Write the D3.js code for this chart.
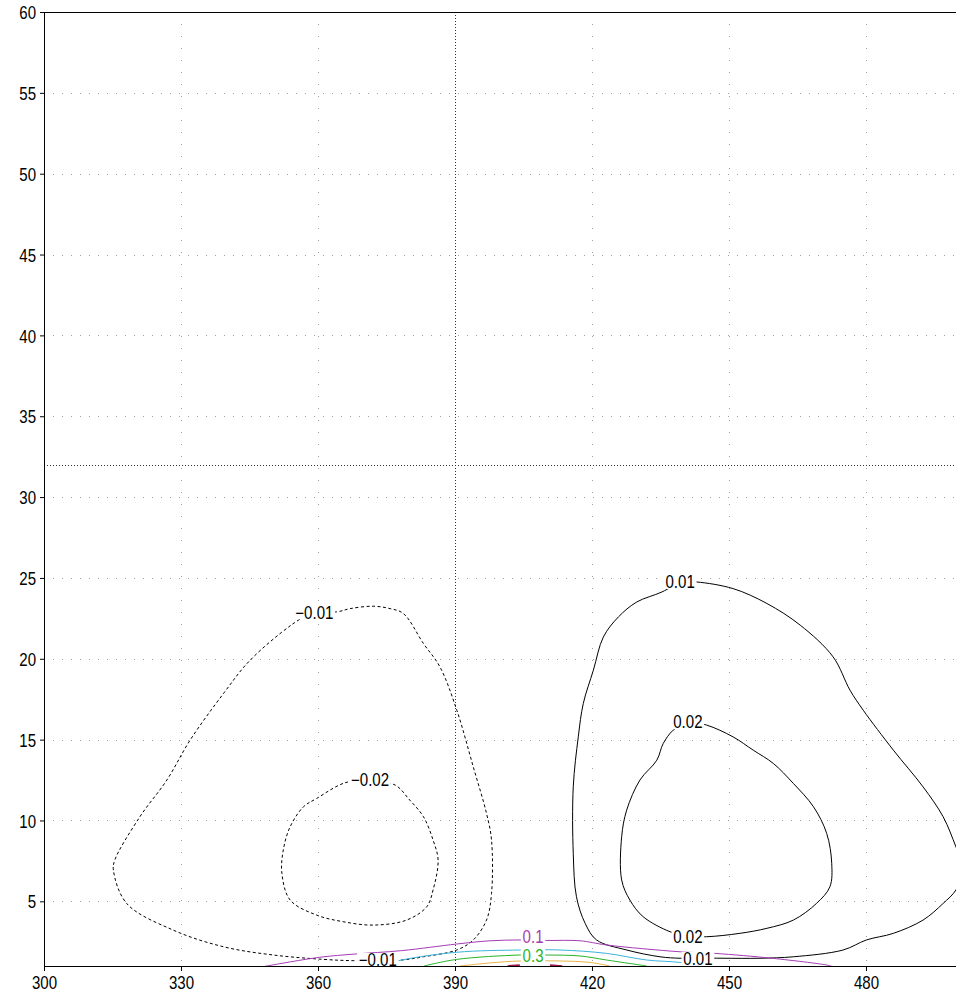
<!DOCTYPE html>
<html><head><meta charset="utf-8">
<script src="https://cdn.jsdelivr.net/npm/d3@7"></script>
<style>
body{margin:0;background:#fff}
svg{display:block}
text{font-family:"Liberation Sans",Arial,sans-serif;}
</style>
</head><body><svg id="c" width="956" height="993"></svg>
<script>
// ---- data ----
const xTicks = [300, 330, 360, 390, 420, 450, 480];
const yTicks = [5, 10, 15, 20, 25, 30, 35, 40, 45, 50, 55, 60];
const crossX = 390, crossY = 32;

// contour -0.01 (outer dashed)
const cNeg001 = [[359.1,22.95],[354.2,22.1],[345.1,19.9],[339.3,17.85],[332.0,14.97],[326.9,12.5],[321.0,10.23],[315.5,7.55],[315.2,6.93],[318.1,4.87],[328.3,3.22],[339.3,2.19],[350.2,1.68],[361.2,1.41],[367.7,1.33],[373.1,1.35],[378.3,1.37],[383.1,1.57],[390.4,1.99],[394.0,2.61],[396.9,3.84],[398.0,5.49],[398.0,8.79],[396.9,10.44],[394.0,13.32],[390.4,16.82],[386.7,19.5],[383.1,20.94],[378.7,22.8],[375.8,23.1],[372.1,23.25],[367.0,23.1],[364.1,22.9],[359.1,22.95]];
// contour -0.02 (inner dashed)
const cNeg002 = [[371.4,12.5],[365.9,12.33],[359.7,11.36],[356.8,10.84],[353.9,9.61],[352.4,8.17],[352.1,6.73],[353.9,5.08],[359.7,4.15],[365.5,3.74],[372.1,3.53],[379.4,3.84],[383.8,4.66],[385.2,5.7],[386.3,7.55],[385.2,8.79],[383.1,10.23],[380.1,11.26],[376.9,12.19],[371.4,12.5]];
// contour 0.01
const cPos001 = [[439.3,24.75],[442.9,24.75],[450.9,24.34],[458.3,23.42],[465.6,22.08],[472.8,20.12],[476.5,18.06],[479.4,16.82],[486.0,14.35],[492.5,12.08],[496.9,10.23],[499.7,8.37],[501.5,7.0],[499.7,5.7],[496.9,4.87],[492.5,3.84],[486.0,3.02],[480.1,2.61],[475.0,1.99],[464.1,1.57],[456.8,1.48],[448.7,1.48],[443.2,1.49],[439.3,1.48],[434.9,1.57],[427.6,1.99],[421.0,2.61],[418.5,3.64],[416.6,5.28],[415.9,7.97],[415.9,12.08],[417.0,15.17],[418.1,17.24],[420.3,19.29],[422.5,21.35],[425.8,22.59],[429.8,23.51],[435.3,24.13],[439.3,24.75]];
// contour 0.02
const cPos002 = [[441.0,16.1],[445.1,15.9],[450.9,15.17],[455.3,14.35],[459.7,13.53],[464.1,12.29],[468.5,10.85],[471.4,9.2],[472.5,7.35],[472.1,5.9],[469.2,4.88],[464.1,3.84],[458.3,3.33],[452.4,3.02],[445.1,2.81],[441.0,2.85],[437.1,3.12],[431.2,4.05],[428.3,5.08],[426.5,6.32],[426.5,8.99],[427.6,10.64],[430.5,12.5],[434.2,13.73],[435.6,14.76],[437.8,15.59],[441.0,16.1]];
// contours near the lower boundary
const cPos01 = [[347.5,0.93],[348.8,1.0],[360.4,1.54],[368.1,1.74],[378.3,1.95],[390.4,2.36],[397.7,2.56],[404.2,2.61],[410.1,2.58],[417.4,2.56],[423.2,2.3],[439.3,1.88],[446.9,1.78],[459.7,1.47],[471.4,1.06],[472.5,0.98]];
const cPos02 = [[373.6,1.0],[378.3,1.37],[390.4,1.85],[404.2,1.99],[413.0,1.99],[423.2,1.78],[432.0,1.37],[439.3,1.22],[443.6,1.0]];
const cPos03 = [[383.2,1.0],[390.4,1.41],[404.2,1.68],[410.1,1.68],[417.4,1.62],[423.2,1.37],[432.0,1.0]];
const cPos04 = [[391.1,1.0],[397.7,1.19],[404.2,1.31],[413.0,1.31],[419.6,1.22],[423.9,1.0]];
const cPos05a = [[401.5,0.99],[404.2,1.05]];
const cPos05b = [[410.8,1.05],[413.5,0.99]];

// contour labels
const labelTexts = ["\u22120.01", "\u22120.01", "\u22120.02", "0.01", "0.01", "0.02", "0.02", "0.1", "0.3"];
const labelX = [359.2, 373.1, 371.4, 439.3, 443.2, 441.0, 441.0, 407.1, 407.1];
const labelY = [22.88, 1.37, 12.5, 24.75, 1.45, 16.08, 2.81, 2.8, 1.66];
const labelLevel = [-0.01, -0.01, -0.02, 0.01, 0.01, 0.02, 0.02, 0.1, 0.3];

// ---- styles by level ----
const levelColor = {"-0.02":"#000","-0.01":"#000","0.01":"#000","0.02":"#000","0.1":"#a43cb4","0.2":"#3cb4dc","0.3":"#28b428","0.4":"#e6b446","0.5":"#a0144a"};

const contours = [
  {level:-0.01, pts:cNeg001},
  {level:-0.02, pts:cNeg002},
  {level:0.01, pts:cPos001},
  {level:0.02, pts:cPos002},
  {level:0.1, pts:cPos01},
  {level:0.2, pts:cPos02},
  {level:0.3, pts:cPos03},
  {level:0.4, pts:cPos04},
  {level:0.5, pts:cPos05a},
  {level:0.5, pts:cPos05b}
];

const FS = 17.5, SX = 0.86;
const svg = d3.select("#c");
const L = 44, R = 957.3, T = 12, B = 966;
const x = d3.scaleLinear().domain([300, 500]).range([L, R]);
const y = d3.scaleLinear().domain([1, 60]).range([B, T]);

// clip
svg.append("defs").append("clipPath").attr("id","clip")
  .append("rect").attr("x", L).attr("y", T).attr("width", R - L).attr("height", B - T + 1);

// grid
const grid = svg.append("g");
grid.selectAll("line.gx").data(xTicks.filter(d => d !== 300)).enter().append("line")
  .attr("x1", d => Math.round(x(d)) + 0.5).attr("x2", d => Math.round(x(d)) + 0.5)
  .attr("y1", T).attr("y2", B)
  .attr("stroke", "#a0a0a0").attr("stroke-width", 1).attr("stroke-dasharray", "1,11");
grid.selectAll("line.gy").data(yTicks).enter().append("line")
  .attr("x1", L).attr("x2", R)
  .attr("y1", d => Math.round(y(d)) + 0.5).attr("y2", d => Math.round(y(d)) + 0.5)
  .attr("stroke", "#a0a0a0").attr("stroke-width", 1).attr("stroke-dasharray", "1,8");

// crosshair
grid.append("line")
  .attr("x1", Math.round(x(crossX)) + 0.5).attr("x2", Math.round(x(crossX)) + 0.5)
  .attr("y1", T).attr("y2", B)
  .attr("stroke", "#333").attr("stroke-width", 1).attr("stroke-dasharray", "1,2");
grid.append("line")
  .attr("x1", L).attr("x2", R)
  .attr("y1", Math.round(y(crossY)) + 0.5).attr("y2", Math.round(y(crossY)) + 0.5)
  .attr("stroke", "#333").attr("stroke-width", 1).attr("stroke-dasharray", "1,2");

// contours
const line = d3.line().x(d => x(d[0])).y(d => y(d[1])).curve(d3.curveCatmullRom.alpha(0.5));
const cg = svg.append("g").attr("clip-path", "url(#clip)");
cg.selectAll("path").data(contours).enter().append("path")
  .attr("d", d => line(d.pts))
  .attr("fill", "none")
  .attr("stroke", d => levelColor[String(d.level)])
  .attr("stroke-width", d => d.level === 0.5 ? 2 : 1)
  .attr("stroke-dasharray", d => d.level < 0 ? "3,2.5" : null);

// labels
const lg = svg.append("g");
labelTexts.forEach((t, i) => {
  const g = lg.append("g")
    .attr("transform", `translate(${x(labelX[i])},${y(labelY[i])}) scale(${SX},1)`);
  const tx = g.append("text")
    .attr("x", 0).attr("y", 0)
    .attr("dy", "0.36em")
    .attr("text-anchor", "middle")
    .attr("font-size", FS)
    .attr("fill", labelLevel[i] > 0.05 ? levelColor[String(labelLevel[i])] : "#000")
    .text(t);
  const bb = tx.node().getBBox();
  g.insert("rect", "text")
    .attr("x", bb.x - 2).attr("y", -7).attr("width", bb.width + 4).attr("height", 14)
    .attr("fill", "#fff");
});

// axes
const axL = svg.append("g").attr("transform", `translate(${L},0)`)
  .call(d3.axisLeft(y).tickValues(yTicks).tickSize(4).tickSizeOuter(0).tickPadding(4).tickFormat(d3.format("d")));
const axB = svg.append("g").attr("transform", `translate(0,${B})`)
  .call(d3.axisBottom(x).tickValues(xTicks).tickSize(5).tickSizeOuter(0).tickPadding(6).tickFormat(d3.format("d")));
[axL, axB].forEach(a => {
  a.attr("font-family", null).attr("font-size", null);
  a.selectAll("text").attr("font-size", FS).attr("fill", "#000");
  a.selectAll("line,path").attr("stroke", "#000");
});
axB.selectAll("text").attr("transform", `scale(${SX},1)`);
axL.selectAll("text").attr("x", -8 / SX).attr("dy", "0.38em").attr("transform", `scale(${SX},1)`);
// top frame
svg.append("line").attr("x1", L).attr("x2", R).attr("y1", T + 0.5).attr("y2", T + 0.5).attr("stroke", "#000");
</script>
</body></html>
